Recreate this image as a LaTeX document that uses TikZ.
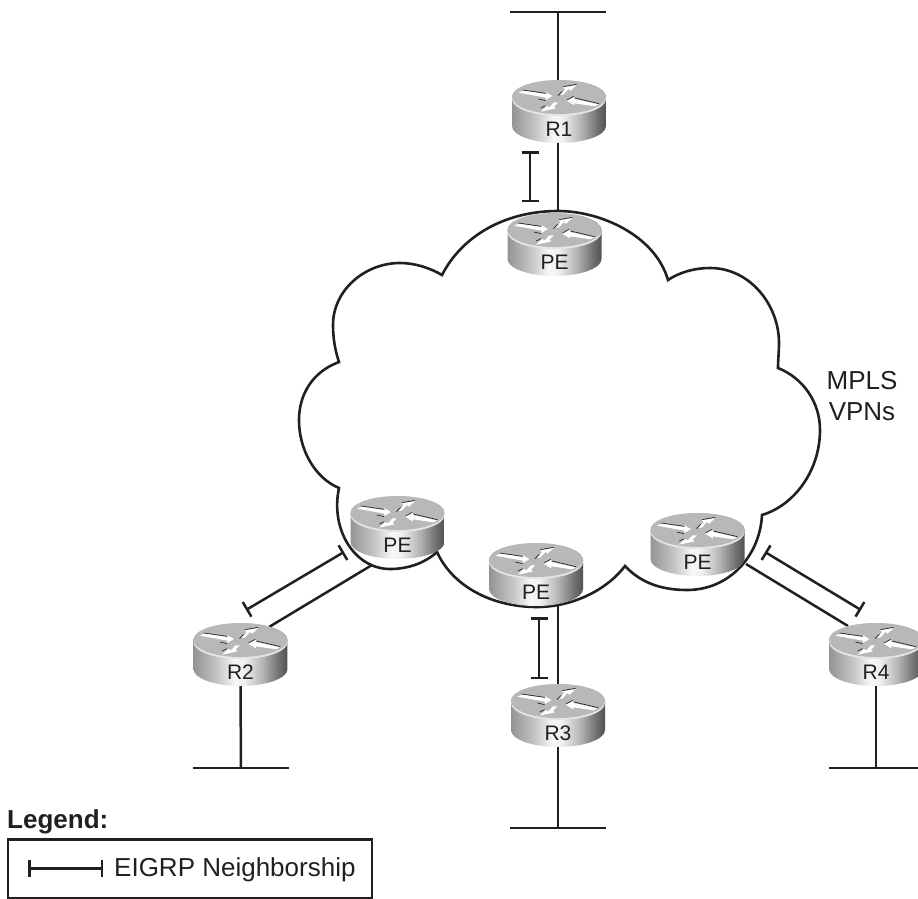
\documentclass[tikz,border=0pt]{standalone}
\usepackage{fontspec}
\setmainfont{Liberation Sans}
\usetikzlibrary{arrows.meta,calc}
\definecolor{ink}{HTML}{231F20}
\pgfdeclarelayer{under}
\pgfsetlayers{under,main}
\pgfdeclarehorizontalshading{routerside}{100bp}{
 color(0bp)=(black!42);
 color(25bp)=(black!42);
 color(38bp)=(black!22);
 color(47bp)=(black!3);
 color(52bp)=(black!6);
 color(62bp)=(black!30);
 color(70bp)=(black!55);
 color(75bp)=(black!68);
 color(100bp)=(black!68)}
\tikzset{
 link/.style={draw=ink,line width=2.5pt},
 neighbor/.style={draw=ink,line width=2.5pt,{Bar[width=17pt,line width=2.5pt]}-{Bar[width=17pt,line width=2.5pt]}},
 cloudline/.style={draw=ink,line width=2.6pt,line join=miter},
 routerbox/.style={rectangle,minimum width=95pt,minimum height=63pt,inner sep=0pt},
 routerlabel/.style={anchor=base,inner sep=0pt,text=ink,font=\fontsize{21}{24}\selectfont},
 bigtext/.style={text=ink,inner sep=0pt,font=\fontsize{26}{31}\selectfont},
 arrowface/.style={fill=white,draw=none},
 arrowedge/.style={draw=ink,line width=.65pt}
}
\newcommand{\routerdraw}[4]{%
 \node[routerbox] (#1) at (#2,#3+14.5) {};
 \begin{scope}[shift={(#2,#3)},x=0.3333pt,y=-0.3333pt]
  \path[shade,shading=routerside] (-141,0) -- (-141,87) arc[start angle=180,end angle=0,x radius=141,y radius=51] -- (141,0) arc[start angle=0,end angle=-180,x radius=141,y radius=51] -- cycle;
  \fill[black!10] (0,6) ellipse[x radius=141,y radius=51];
  \fill[black!28] (0,0) ellipse[x radius=141,y radius=51];
  \path[arrowface] (-122,-13) -- (-107,-19) -- (-39,-9) -- (-40,-15) -- (-20,-3) -- (-40,9) -- (-39,2) -- cycle;
  \path[arrowface] (1,-7) -- (18,-23) -- (13,-29) -- (53,-36) -- (35,-19) -- (28,-24) -- (13,-7) -- cycle;
  \path[arrowface] (-2,16) -- (-15,29) -- (-9,34) -- (-55,44) -- (-37,27) -- (-29,31) -- (-15,16) -- cycle;
  \path[arrowface] (23,11) -- (46,-1) -- (46,6) -- (118,22) -- (108,28) -- (46,19) -- (46,25) -- cycle;
  \draw[arrowedge] (-109,-21) -- (-39,-11) (-62,6) -- (-40,11);
  \draw[arrowedge] (13,-31) -- (53,-38) (-3,-4) -- (10,-17);
  \draw[arrowedge] (-55,33) -- (-40,26);
  \draw[arrowedge] (48,3) -- (120,20) (24,9) -- (44,-2);
 \end{scope}
 \node[routerlabel] (#1label) at (#2,#3+39) {#4};
}
\begin{document}
\begin{tikzpicture}[x=1pt,y=-1pt]
\useasboundingbox (0,0) rectangle (918,899);

\routerdraw{R1}{559}{97}{R1}
\routerdraw{PEtop}{554.5}{230}{PE}
\routerdraw{PEleft}{397.5}{513}{PE}
\routerdraw{PEmid}{536}{560}{PE}
\routerdraw{PEright}{697.5}{530}{PE}
\routerdraw{R2}{240.5}{640}{R2}
\routerdraw{R3}{558}{701}{R3}
\routerdraw{R4}{876}{640}{R4}

\coordinate (topL) at (510,12);
\coordinate (topR) at (606,12);
\coordinate (topM) at (558,12);
\coordinate (r2L) at (193,768);
\coordinate (r2R) at (289,768);
\coordinate (r2M) at (241,768);
\coordinate (r3L) at (510,828);
\coordinate (r3R) at (606,828);
\coordinate (r3M) at (558,828);
\coordinate (r4L) at (829,768);
\coordinate (r4R) at (918,768);
\coordinate (r4M) at (876,768);
\coordinate (cloudtop) at (558,212);
\coordinate (cloudbot) at (558,606);

\begin{pgfonlayer}{under}
\draw[cloudline] (442,275)
 .. controls (462,236) and (505,211) .. (558,211)
 .. controls (600,211) and (655,235) .. (668,280)
 .. controls (680,272) and (695,268) .. (710,268)
 .. controls (750,268) and (779,305) .. (779,343)
 .. controls (779,352) and (778,360) .. (778,368)
 .. controls (803,378) and (820,402) .. (820,430)
 .. controls (820,470) and (795,505) .. (762,515)
 .. controls (760,555) and (730,590) .. (687,590)
 .. controls (660,590) and (640,582) .. (625,566)
 .. controls (605,592) and (570,607) .. (537,607)
 .. controls (490,607) and (452,585) .. (437,552)
 .. controls (425,563) and (408,569) .. (390,569)
 .. controls (355,569) and (330,530) .. (339,488)
 .. controls (315,478) and (299,450) .. (299,420)
 .. controls (299,395) and (312,372) .. (339,362)
 .. controls (335,350) and (333,338) .. (333,325)
 .. controls (333,290) and (365,263) .. (400,263)
 .. controls (415,263) and (430,268) .. (442,275) -- cycle;

\draw[link] (topL) -- (topR);
\draw[link] (topM) -- (topM |- R1.north);
\draw[link] (topM |- R1.south) -- (cloudtop);
\draw[link] ($(PEleft.center)+(-25.5,37.5)$) -- ($(R2.center)+(28.5,-27.5)$);
\draw[link] (R2.south) -- (r2M);
\draw[link] (r2L) -- (r2R);
\draw[link] (cloudbot) -- (R3.north);
\draw[link] (R3.south) -- (r3M);
\draw[link] (r3L) -- (r3R);
\draw[link] ($(PEright.center)+(48.5,19.5)$) -- ($(R4.center)+(-28,-28.5)$);
\draw[link] (R4.south) -- (r4M);
\draw[link] (r4L) -- (r4R);
\end{pgfonlayer}

\coordinate (n1a) at (530,151);
\coordinate (n1b) at (530,202);
\coordinate (n2a) at (344,552);
\coordinate (n2b) at (246,610);
\coordinate (n3a) at (539,617);
\coordinate (n3b) at (539,679);
\coordinate (n4a) at (765,552);
\coordinate (n4b) at (861,610);
\draw[neighbor] (n1a) -- (n1b);
\draw[neighbor] (n2a) -- (n2b);
\draw[neighbor] (n3a) -- (n3b);
\draw[neighbor] (n4a) -- (n4b);

\node[bigtext,align=center,anchor=base] (mpls) at (862,420) {MPLS\\VPNs};

\node[bigtext,anchor=base west,font=\fontsize{26}{31}\selectfont\bfseries] (legendtitle) at (7,828) {Legend:};
\node[draw=ink,line width=2.5pt,minimum width=364pt,minimum height=59pt,inner sep=0pt,anchor=north west] (legendbox) at (6.5,838) {};
\coordinate (legA) at (28,868.5);
\coordinate (legB) at (103,868.5);
\draw[neighbor] (legA) -- (legB);
\node[bigtext,anchor=base west] (legendtext) at (114,876) {EIGRP Neighborship};
\end{tikzpicture}
\end{document}
